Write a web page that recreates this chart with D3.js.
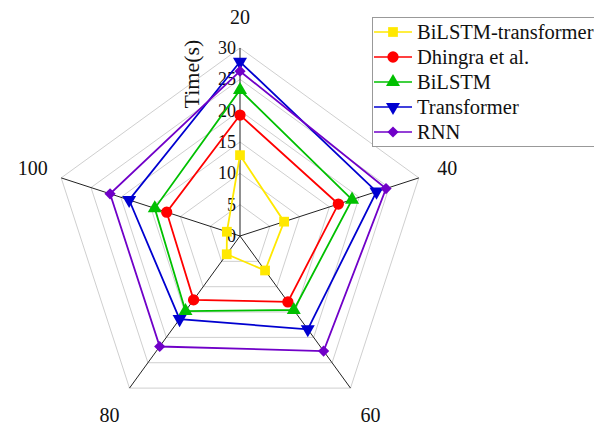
<!DOCTYPE html>
<html><head><meta charset="utf-8">
<script src="https://cdn.jsdelivr.net/npm/d3@7"></script>
<style>
html,body{margin:0;padding:0;background:#fff;}
svg{display:block;}
svg text{font-family:"Liberation Serif","Times New Roman",Times,"DejaVu Serif",serif;}
</style></head>
<body><svg id="c" width="594" height="427"></svg>
<script>
const axesLabels = ["20","40","60","80","100"];
const ticks = [0,5,10,15,20,25,30];
const seriesNames = ["BiLSTM-transformer","Dhingra et al.","BiLSTM","Transformer","RNN"];
const seriesColors = ["#ffe800","#ff0000","#00c000","#0000d0","#7000c8"];
const seriesSymbols = ["square","circle","triangle","triangleDown","diamond"];
const bilstmTransformer = [12.9, 7.4, 6.8, 3.6, 2.2];
const dhingra = [19.3, 16.5, 13.0, 12.6, 12.3];
const bilstm = [23.3, 18.8, 14.6, 14.8, 14.3];
const transformer = [27.8, 22.9, 18.4, 16.4, 18.6];
const rnn = [26.3, 24.5, 22.7, 21.8, 21.8];
const seriesValues = [bilstmTransformer, dhingra, bilstm, transformer, rnn];

const FONT = '"Liberation Serif","Times New Roman",Times,"DejaVu Serif",serif';
const svg = d3.select("#c");
const cx = 240, cy = 236, R = 188;
const r = d3.scaleLinear().domain([0,30]).range([0,R]);
const ang = d3.scalePoint().domain(axesLabels).range([0, 2*Math.PI*4/5]);
const pt = (a, v) => [cx + r(v)*Math.sin(ang(a)), cy - r(v)*Math.cos(ang(a))];

const g = svg.append("g");
// grid rings
ticks.filter(t=>t>0).forEach(t=>{
  g.append("polygon")
    .attr("points", axesLabels.map(a=>pt(a,t).join(",")).join(" "))
    .attr("fill","none").attr("stroke","#cfcfcf").attr("stroke-width",1);
});
// spokes
axesLabels.forEach(a=>{
  const p = pt(a,30);
  g.append("line").attr("x1",cx).attr("y1",cy).attr("x2",p[0]).attr("y2",p[1])
   .attr("stroke","#222").attr("stroke-width",1);
});
// tick labels
ticks.forEach(t=>{
  g.append("text").attr("x",cx-4).attr("y",cy - r(t)).attr("dy","0.33em")
   .attr("font-family",FONT)
   .attr("text-anchor","end").attr("font-size",18).attr("fill","#111").text(t);
});
// axis title
g.append("text").attr("transform",`translate(192,74) rotate(-90)`)
 .attr("font-family",FONT)
 .attr("text-anchor","middle").attr("dy","0.33em").attr("font-size",22).attr("fill","#111").text("Time(s)");
// category labels
axesLabels.forEach((a,i)=>{
  const rr = i===0 ? 219 : (i===2||i===3 ? 222 : 218);
  const x = cx + rr*Math.sin(ang(a)), y = cy - rr*Math.cos(ang(a));
  g.append("text").attr("x",x).attr("y",y).attr("dy","0.33em").attr("text-anchor","middle")
   .attr("font-family",FONT)
   .attr("font-size",20).attr("fill","#111").text(a);
});

const symMap = {square:d3.symbolSquare, circle:d3.symbolCircle, triangle:d3.symbolTriangle, triangleDown:d3.symbolTriangle, diamond:d3.symbolDiamond2};
const symSize = {square:95, circle:100, triangle:85, triangleDown:85, diamond:80};
function marker(sel, s, color, x, y){
  sel.append("path").attr("d", d3.symbol().type(symMap[s]).size(symSize[s])())
    .attr("transform", `translate(${x},${y})` + (s==="triangleDown" ? " rotate(180)" : ""))
    .attr("fill", color);
}
const line = d3.line().curve(d3.curveLinearClosed);
seriesValues.forEach((vals,i)=>{
  const pts = axesLabels.map((a,j)=>pt(a, vals[j]));
  g.append("path").attr("d", line(pts)).attr("fill","none")
   .attr("stroke", seriesColors[i]).attr("stroke-width",1.8);
  pts.forEach(p=>marker(g, seriesSymbols[i], seriesColors[i], p[0], p[1]));
});

// legend
const lg = svg.append("g");
lg.append("rect").attr("x",372.5).attr("y",17.5).attr("width",240).attr("height",129)
  .attr("fill","#fff").attr("stroke","#999").attr("stroke-width",1);
seriesNames.forEach((n,i)=>{
  const y = 32 + i*25;
  lg.append("line").attr("x1",374).attr("x2",412).attr("y1",y).attr("y2",y)
    .attr("stroke",seriesColors[i]).attr("stroke-width",1.5);
  marker(lg, seriesSymbols[i], seriesColors[i], 393, y);
  lg.append("text").attr("x",417).attr("y",y).attr("dy","0.33em").attr("font-size",20.5)
    .attr("font-family",FONT)
    .attr("fill","#111").text(n);
});
</script></body></html>
